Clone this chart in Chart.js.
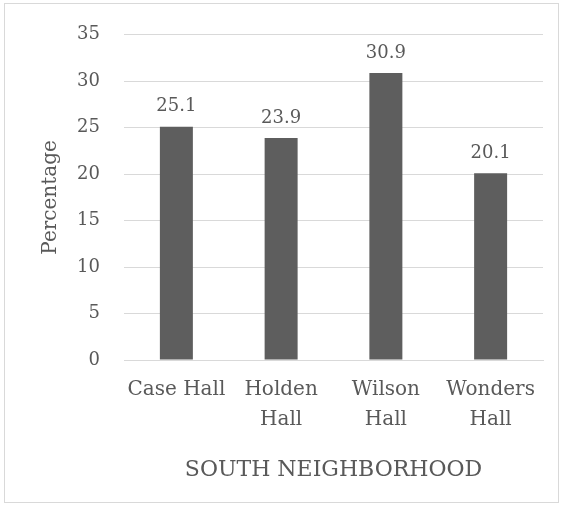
<!DOCTYPE html>
<html>
<head>
<meta charset="utf-8">
<script src="https://cdn.jsdelivr.net/npm/chart.js@4.4.0/dist/chart.umd.min.js"></script>
<style>
html,body{margin:0;padding:0;background:#fff;}
#wrap{position:relative;width:563px;height:508px;}
canvas{display:block;}
</style>
</head>
<body>
<div id="wrap"><canvas id="c" width="563" height="508"></canvas></div>
<script>
const categories = [["Case Hall"], ["Holden", "Hall"], ["Wilson", "Hall"], ["Wonders", "Hall"]];
const percentages = [25.1, 23.9, 30.9, 20.1];
const yTicks = [0, 5, 10, 15, 20, 25, 30, 35];
const yTitle = "Percentage";
const xTitle = "SOUTH NEIGHBORHOOD";

const FONT = "'DejaVu Serif', serif";
const TXT = "#595959";

const frame = {
  id: 'frame',
  beforeDraw(chart) {
    const ctx = chart.ctx;
    ctx.save();
    ctx.fillStyle = '#fff';
    ctx.fillRect(0, 0, chart.width, chart.height);
    ctx.strokeStyle = '#d9d9d9';
    ctx.lineWidth = 1;
    ctx.strokeRect(4.5, 3.5, 554, 499);
    ctx.restore();
  }
};

const labels = {
  id: 'labels',
  afterDatasetsDraw(chart) {
    const ctx = chart.ctx;
    const meta = chart.getDatasetMeta(0);
    ctx.save();
    ctx.fillStyle = TXT;
    ctx.font = "18px " + FONT;
    ctx.textAlign = 'center';
    ctx.textBaseline = 'bottom';
    meta.data.forEach((bar, i) => {
      ctx.fillText(percentages[i].toFixed(1), bar.x, bar.y - 11);
    });
    ctx.restore();
  }
};

new Chart(document.getElementById('c'), {
  type: 'bar',
  data: {
    labels: categories,
    datasets: [{
      data: percentages,
      backgroundColor: '#5e5e5e',
      categoryPercentage: 1,
      barPercentage: 0.315
    }]
  },
  options: {
    responsive: false,
    animation: false,
    layout: { padding: { top: 29, right: 20, left: 39, bottom: 25 } },
    plugins: { legend: { display: false }, tooltip: { enabled: false } },
    scales: {
      x: {
        grid: { display: false, drawTicks: false },
        border: { display: true, color: '#d9d9d9', width: 1 },
        ticks: { color: TXT, font: { family: FONT, size: 20, lineHeight: 1.5 }, padding: 15, maxRotation: 0, autoSkip: false },
        title: { display: true, text: xTitle, color: TXT, font: { family: FONT, size: 22 }, padding: { top: 4, bottom: 0 } },
        afterFit(s) { s.height = 123; }
      },
      y: {
        min: 0, max: 35,
        afterBuildTicks(s) { s.ticks = yTicks.map(v => ({ value: v })); },
        grid: { color: '#d9d9d9', drawTicks: false },
        border: { display: false },
        ticks: { color: TXT, font: { family: FONT, size: 18 }, padding: 24 },
        title: { display: true, text: yTitle, color: TXT, font: { family: FONT, size: 20 }, padding: { top: 0, bottom: 0 } },
        afterFit(s) { s.width = 85; }
      }
    }
  },
  plugins: [frame, labels]
});
</script>
</body>
</html>
